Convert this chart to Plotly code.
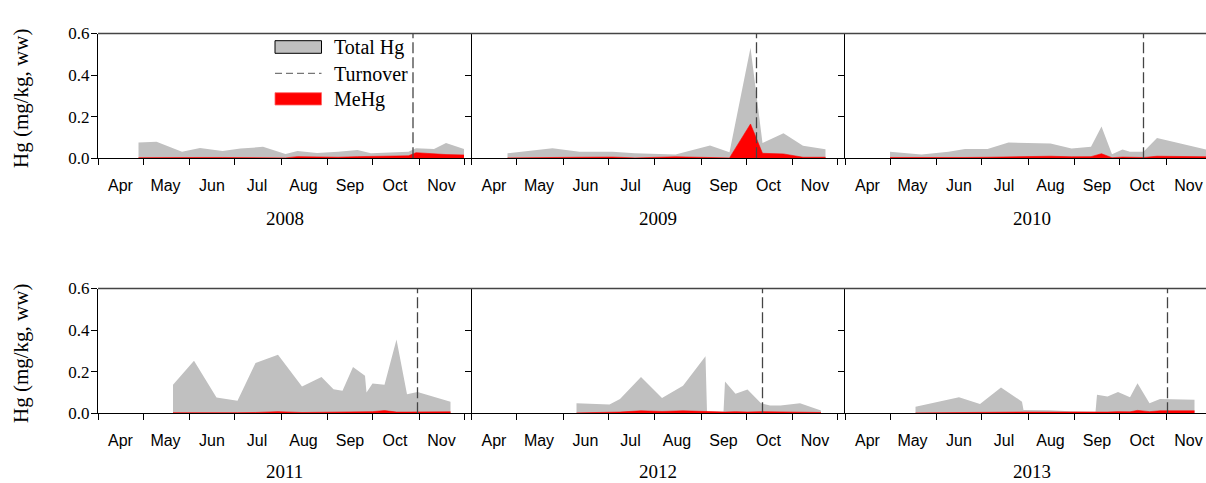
import plotly.graph_objects as go
import pandas as pd

W, H = 1206, 483

years = [2008, 2009, 2010, 2011, 2012, 2013]
month_names = ["Apr", "May", "Jun", "Jul", "Aug", "Sep", "Oct", "Nov"]
ytick_vals = [0.0, 0.2, 0.4, 0.6]
ytick_text = ["0.0", "0.2", "0.4", "0.6"]

# sampling dates (MM-DD) and concentrations (mg/kg ww)
dates_2008 = ["04-28", "05-10", "05-27", "06-08", "06-23", "07-05", "07-20", "08-04", "08-12", "08-25",
              "09-08", "09-21", "09-30", "10-09", "10-25", "10-30", "11-11", "11-19", "12-01"]
thg_2008 = [0.076, 0.079, 0.032, 0.050, 0.035, 0.047, 0.055, 0.021, 0.035, 0.026,
            0.032, 0.040, 0.024, 0.027, 0.032, 0.048, 0.045, 0.073, 0.045]
mehg_2008 = [0.003, 0.004, 0.002, 0.004, 0.004, 0.004, 0.004, 0.002, 0.008, 0.006,
             0.005, 0.008, 0.010, 0.010, 0.012, 0.027, 0.020, 0.018, 0.016]

dates_2009 = ["04-25", "05-25", "06-12", "07-04", "07-19", "08-15", "09-07", "09-20", "10-04", "10-12",
              "10-26", "11-08", "11-23"]
thg_2009 = [0.024, 0.048, 0.032, 0.031, 0.024, 0.018, 0.061, 0.029, 0.532, 0.073,
            0.121, 0.060, 0.044]
mehg_2009 = [0.002, 0.002, 0.005, 0.006, 0.002, 0.007, 0.003, 0.002, 0.165, 0.024,
             0.021, 0.005, 0.005]

dates_2010 = ["05-01", "05-22", "06-09", "06-20", "07-05", "07-19", "08-16", "08-30", "09-12", "09-19",
              "09-26", "10-03", "10-08", "10-17", "10-26", "12-01"]
thg_2010 = [0.031, 0.018, 0.032, 0.045, 0.045, 0.076, 0.071, 0.047, 0.056, 0.153,
            0.019, 0.042, 0.031, 0.031, 0.097, 0.037]
mehg_2010 = [0.004, 0.003, 0.002, 0.004, 0.005, 0.006, 0.010, 0.007, 0.008, 0.022,
             0.003, 0.006, 0.006, 0.004, 0.010, 0.007]

dates_2011 = ["05-21", "06-04", "06-19", "07-03", "07-15", "07-30", "08-15", "08-28", "09-05", "09-11",
              "09-18", "09-26", "09-27", "10-01", "10-09", "10-17", "10-24", "10-31", "11-22"]
thg_2011 = [0.137, 0.253, 0.076, 0.060, 0.242, 0.282, 0.129, 0.174, 0.116, 0.108,
            0.223, 0.180, 0.100, 0.143, 0.137, 0.355, 0.092, 0.103, 0.056]
mehg_2011 = [0.003, 0.002, 0.002, 0.003, 0.004, 0.008, 0.004, 0.005, 0.004, 0.006,
             0.007, 0.006, 0.005, 0.008, 0.013, 0.006, 0.006, 0.006, 0.007]

dates_2012 = ["06-10", "07-02", "07-09", "07-23", "08-06", "08-20", "09-04", "09-05", "09-16", "09-17",
              "09-24", "10-02", "10-11", "10-17", "10-24", "11-06", "11-20"]
thg_2012 = [0.048, 0.042, 0.069, 0.174, 0.074, 0.132, 0.274, 0.008, 0.008, 0.153,
            0.094, 0.115, 0.048, 0.037, 0.037, 0.048, 0.013]
mehg_2012 = [0.002, 0.003, 0.006, 0.012, 0.009, 0.012, 0.008, 0.007, 0.007, 0.006,
             0.008, 0.006, 0.008, 0.007, 0.007, 0.007, 0.004]

dates_2013 = ["05-18", "06-16", "06-30", "07-14", "07-28", "07-29", "08-15", "08-29", "09-15", "09-16",
              "09-23", "09-30", "10-08", "10-13", "10-21", "10-28", "11-20"]
thg_2013 = [0.032, 0.077, 0.045, 0.124, 0.056, 0.016, 0.015, 0.010, 0.008, 0.089,
            0.081, 0.103, 0.077, 0.145, 0.048, 0.069, 0.065]
mehg_2013 = [0.002, 0.005, 0.005, 0.006, 0.006, 0.006, 0.006, 0.005, 0.004, 0.004,
             0.006, 0.008, 0.007, 0.014, 0.008, 0.012, 0.012]

turnover_dates = ["10-28", "10-08", "10-17", "10-31", "10-12", "11-02"]

all_dates = [dates_2008, dates_2009, dates_2010, dates_2011, dates_2012, dates_2013]
all_thg = [thg_2008, thg_2009, thg_2010, thg_2011, thg_2012, thg_2013]
all_mehg = [mehg_2008, mehg_2009, mehg_2010, mehg_2011, mehg_2012, mehg_2013]

# ---- layout geometry (pixels) ----
col_px = [(98, 471.5), (471.5, 845), (845, 1206)]
row_px = [(33.5, 158.3), (288.5, 413.3)]
px_per_day = 1.5
SERIF = "Liberation Serif, Times New Roman, serif"
SANS = "Liberation Sans, Arial, sans-serif"

GRAY = "#C0C0C0"
RED = "#FF0000"


def xp(px):
    return px / W


def yp(py):
    return 1 - py / H


fig = go.Figure()
layout = dict()
shapes = []
annotations = []

mid_days = ["04-16", "05-16", "06-16", "07-16", "08-16", "09-16", "10-16", "11-16"]
month_starts = ["04-01", "05-01", "06-01", "07-01", "08-01", "09-01", "10-01", "11-01", "12-01"]

for i, yr in enumerate(years):
    r, c = divmod(i, 3)
    n = i + 1
    xa = "x" if n == 1 else f"x{n}"
    ya = "y" if n == 1 else f"y{n}"
    xkey = "xaxis" if n == 1 else f"xaxis{n}"
    ykey = "yaxis" if n == 1 else f"yaxis{n}"

    xs = [f"{yr}-{d}" for d in all_dates[i]]
    fig.add_trace(go.Scatter(x=xs, y=all_thg[i], mode="lines", fill="tozeroy",
                             line=dict(width=0, color=GRAY), fillcolor=GRAY,
                             name="Total Hg", showlegend=False, hoverinfo="skip",
                             xaxis=xa, yaxis=ya))
    fig.add_trace(go.Scatter(x=xs, y=all_mehg[i], mode="lines", fill="tozeroy",
                             line=dict(width=0.6, color=RED), fillcolor=RED,
                             name="MeHg", showlegend=False, hoverinfo="skip",
                             xaxis=xa, yaxis=ya))

    x0px, x1px = col_px[c]
    y0px, y1px = row_px[r]
    start = pd.Timestamp(f"{yr}-04-01")
    end = start + pd.Timedelta(days=(x1px - x0px) / px_per_day)

    layout[xkey] = dict(
        type="date", domain=[xp(x0px), xp(x1px)], anchor=ya, automargin=False,
        range=[start.strftime("%Y-%m-%d"), end.strftime("%Y-%m-%d %H:%M")],
        tickmode="array", tickvals=[f"{yr}-{d}" for d in mid_days], ticktext=month_names,
        ticks="", ticklabelstandoff=12,
        tickfont=dict(family=SANS, size=16, color="black"),
        showline=True, linecolor="black", linewidth=1,
        showgrid=False, zeroline=False, fixedrange=True,
        minor=dict(tickmode="array", tickvals=[f"{yr}-{d}" for d in month_starts],
                   ticks="outside", ticklen=6, tickcolor="black", tickwidth=1, showgrid=False),
    )
    layout[ykey] = dict(
        domain=[yp(y1px), yp(y0px)], anchor=xa, range=[0, 0.6], automargin=False,
        tickmode="array", tickvals=ytick_vals, ticktext=ytick_text,
        showticklabels=(c == 0), ticks="outside", ticklen=6, tickcolor="black",
        ticklabelstandoff=-2,
        tickfont=dict(family=SERIF, size=17, color="black"),
        showline=True, linecolor="black", linewidth=1,
        showgrid=False, zeroline=False, fixedrange=True,
    )

    # turnover dashed line
    shapes.append(dict(type="line", xref=xa, yref=ya,
                       x0=f"{yr}-{turnover_dates[i]}", x1=f"{yr}-{turnover_dates[i]}",
                       y0=0, y1=0.6, line=dict(color="#444444", width=1.3, dash="11px,4px")))

    # year label centred under the (full-width) panel
    full_w = 373.5
    annotations.append(dict(xref="paper", yref="paper", x=xp(x0px + full_w / 2),
                            y=yp([230, 483][r]), text=str(yr), showarrow=False,
                            xanchor="center", yanchor="bottom", borderpad=0,
                            font=dict(family=SERIF, size=19, color="black")))

# top border line of each row
for (y0px, y1px) in row_px:
    shapes.append(dict(type="line", xref="paper", yref="paper", x0=xp(98), x1=1,
                       y0=yp(y0px), y1=yp(y0px), line=dict(color="#444444", width=1.5)))

# y-axis titles
for yc in [99, 354]:
    annotations.append(dict(xref="paper", yref="paper", x=xp(21), y=yp(yc),
                            text="Hg (mg/kg, ww)", textangle=-90, showarrow=False,
                            xanchor="center", yanchor="middle",
                            font=dict(family=SERIF, size=21, color="black")))

# legend (drawn in first panel)
legend_labels = ["Total Hg", "Turnover", "MeHg"]
shapes.append(dict(type="rect", xref="paper", yref="paper", x0=xp(275), x1=xp(321.5),
                   y0=yp(53.3), y1=yp(40.7), fillcolor=GRAY, line=dict(color="black", width=1)))
shapes.append(dict(type="line", xref="paper", yref="paper", x0=xp(275), x1=xp(321.5),
                   y0=yp(73.3), y1=yp(73.3), line=dict(color="#777777", width=1.2, dash="7px,4px")))
shapes.append(dict(type="rect", xref="paper", yref="paper", x0=xp(275), x1=xp(321.5),
                   y0=yp(105), y1=yp(92.7), fillcolor=RED, line=dict(color="#FF6666", width=0.8)))
for lab, yc in zip(legend_labels, [47.5, 73.5, 99]):
    annotations.append(dict(xref="paper", yref="paper", x=xp(332), y=yp(yc), text=lab,
                            showarrow=False, xanchor="left", yanchor="middle",
                            font=dict(family=SERIF, size=20, color="black")))

fig.update_layout(
    template="none",
    width=W, height=H, margin=dict(l=0, r=0, t=0, b=0, pad=0, autoexpand=False),
    paper_bgcolor="white", plot_bgcolor="white", showlegend=False,
    shapes=shapes, annotations=annotations, **layout,
)

fig.write_html("out.html", config={"displayModeBar": False},
               post_script="document.body.style.margin='0px';document.body.style.overflow='hidden';")
